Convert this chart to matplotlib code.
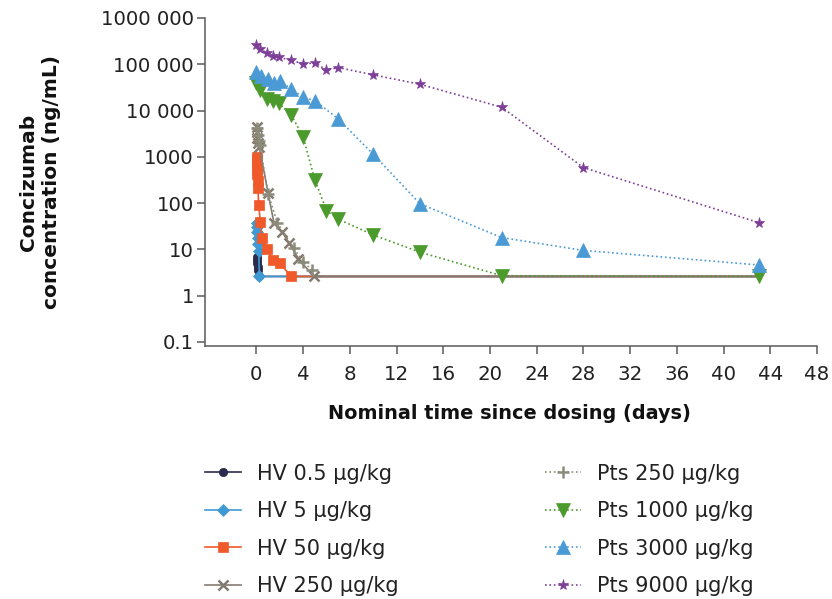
import matplotlib
matplotlib.use("Agg")
import matplotlib.pyplot as plt
from matplotlib.ticker import FixedLocator, FixedFormatter

plt.rcParams["font.family"] = ["DejaVu Sans"]

LLOQ = 2.6

# concentration-time profiles (days, ng/mL)
hv05_t = [0.02, 0.04, 0.08, 0.12, 0.17, 0.25, 43]
hv05_c = [6.8, 5.8, 5.0, 4.2, 3.6, LLOQ, LLOQ]

hv5_t = [0.02, 0.04, 0.08, 0.12, 0.17, 0.21, 0.25, 43]
hv5_c = [38, 30, 24, 18, 13, 9, LLOQ, LLOQ]

hv50_t = [0.01, 0.02, 0.04, 0.06, 0.08, 0.1, 0.125, 0.2, 0.33, 0.5, 0.9, 1.4, 2, 3, 43]
hv50_c = [1000, 850, 700, 550, 420, 300, 210, 91, 40, 18, 10, 5.8, 5.0, LLOQ, LLOQ]

hv250_t = [0.02, 0.04, 0.08, 0.17, 0.25, 1, 1.5, 2.2, 2.8, 3.6, 4.9, 43]
hv250_c = [4500, 3500, 2500, 2000, 1650, 165, 38, 24, 13.6, 6.3, LLOQ, LLOQ]

pts250_t = [0.04, 0.1, 0.2, 0.3, 1, 1.8, 3.2, 4, 4.8]
pts250_c = [4200, 3000, 2200, 1800, 160, 37, 10.6, 5.4, 3.5]

pts1000_t = [0, 0.3, 0.9, 1.4, 1.9, 3, 4, 5, 6, 7, 10, 14, 21, 43]
pts1000_c = [39000, 28000, 17800, 16000, 14500, 8000, 2700, 320, 69, 45, 20.5, 8.7, 2.7, LLOQ]

pts3000_t = [0, 0.4, 1, 1.5, 2, 3, 4, 5, 7, 10, 14, 21, 28, 43]
pts3000_c = [69000, 56000, 47000, 40000, 44000, 29000, 19400, 16400, 6600, 1140, 97, 18, 9.5, 4.6]

pts9000_t = [0, 0.33, 0.875, 1.4, 1.9, 3, 4, 5, 6, 7, 10, 14, 21, 28, 43]
pts9000_c = [255000, 210000, 178000, 150000, 140000, 124000, 100000, 108000,
             75000, 85000, 59000, 37000, 11800, 585, 38]

y_ticks = [0.1, 1, 10, 100, 1000, 10000, 100000, 1000000]
y_labels = ["0.1", "1", "10", "100", "1000", "10 000", "100 000", "1000 000"]
x_ticks = list(range(0, 49, 4))

# label, t, c, colour, marker, size, linestyle, unmarked LLOQ tail
series = [
    ("HV 0.5 µg/kg", hv05_t, hv05_c, "#2a2b4d", "o", 6, "-", True),
    ("HV 5 µg/kg", hv5_t, hv5_c, "#3f9ad3", "D", 6.5, "-", True),
    ("HV 50 µg/kg", hv50_t, hv50_c, "#f0592a", "s", 6.5, "-", True),
    ("HV 250 µg/kg", hv250_t, hv250_c, "#857a6f", "x", 7, "-", True),
    ("Pts 250 µg/kg", pts250_t, pts250_c, "#8c8c7b", "+", 9, ":", False),
    ("Pts 1000 µg/kg", pts1000_t, pts1000_c, "#4b9a2c", "v", 10.5, ":", False),
    ("Pts 3000 µg/kg", pts3000_t, pts3000_c, "#4a9ad5", "^", 10.5, ":", False),
    ("Pts 9000 µg/kg", pts9000_t, pts9000_c, "#7d3f98", "*", 8, ":", False),
]

fig = plt.figure(figsize=(8.32, 5.99), dpi=100)
ax = fig.add_axes([0.2464, 0.4229, 0.7356, 0.5471])

for label, t, c, color, mk, ms, ls, tail in series:
    mew = 1.8 if mk in ("x", "+") else 0.5
    every = slice(0, len(t) - 1) if tail else None
    ax.plot(t, c, linestyle=ls, color=color, lw=1.2, marker=mk, ms=ms,
            mew=mew, mec=color, mfc=color, markevery=every, label=label)

ax.set_yscale("log")
ax.set_ylim(0.083, 1e6)
ax.set_xlim(-4.4, 48)
ax.yaxis.set_major_locator(FixedLocator(y_ticks))
ax.yaxis.set_major_formatter(FixedFormatter(y_labels))
ax.yaxis.set_minor_locator(FixedLocator([]))
ax.set_xticks(x_ticks)

for side in ("top", "right"):
    ax.spines[side].set_visible(False)
for side in ("left", "bottom"):
    ax.spines[side].set_color("#5a5a5a")
    ax.spines[side].set_linewidth(1.1)
ax.tick_params(direction="out", length=6, width=1.1, color="#5a5a5a",
               labelsize=14.2, labelcolor="#222222")
ax.tick_params(axis="y", pad=2)
ax.tick_params(axis="x", pad=8)

fig.text(0.612, 0.3105, "Nominal time since dosing (days)", ha="center",
         va="center", fontsize=13.9, fontweight="bold", color="#111111")
fig.text(40 / 832, 0.696, "Concizumab\nconcentration (ng/mL)", rotation=90,
         ha="center", va="center", fontsize=14.5, fontweight="bold",
         color="#111111", linespacing=1.3)

leg = fig.legend(loc="upper left", bbox_to_anchor=(0.2464, 0.226), ncol=2,
                 frameon=False, fontsize=15, handlelength=1.75,
                 handletextpad=0.75, columnspacing=7.0, labelspacing=0.84,
                 borderpad=0, borderaxespad=0)
for txt in leg.get_texts():
    txt.set_color("#222222")

fig.savefig("out.png", dpi=100)
